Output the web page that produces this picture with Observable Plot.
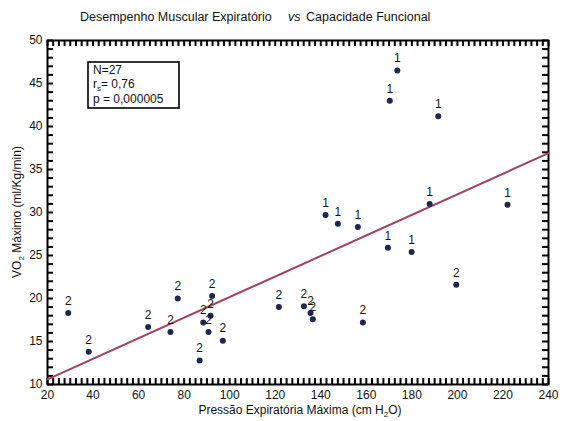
<!DOCTYPE html>
<html>
<head>
<meta charset="utf-8">
<script src="https://cdn.jsdelivr.net/npm/d3@7"></script>
<script src="https://cdn.jsdelivr.net/npm/@observablehq/plot@0.6"></script>
<style>
  html, body { margin: 0; padding: 0; background: #fff; }
  #chart svg { display: block; }
</style>
</head>
<body>
<div id="chart"></div>
<script>
// Pressão Expiratória Máxima (cm H2O)
const pemax = [29.1, 38.1, 64.2, 74.0, 77.2, 92.3, 91.6, 88.4, 90.7, 97.0, 86.8, 121.6, 132.6, 135.5, 136.5, 158.5, 199.5,
               173.6, 170.3, 191.6, 142.1, 147.5, 156.3, 169.5, 179.9, 187.8, 222.0];
// VO2 Máximo (ml/Kg/min)
const vo2 = [18.3, 13.8, 16.7, 16.1, 20.0, 20.3, 18.0, 17.2, 16.1, 15.1, 12.8, 19.0, 19.1, 18.3, 17.6, 17.2, 21.6,
             46.5, 43.0, 41.2, 29.7, 28.7, 28.3, 25.9, 25.4, 31.0, 30.9];
// group label shown above each point
const groupLabel = ["2","2","2","2","2","2","2","2","2","2","2","2","2","2","2","2","2",
                    "1","1","1","1","1","1","1","1","1","1"];
// regression line end points
const fitX = [20, 240];
const fitY = [10.6, 36.9];
// axis ticks
const xTicks = [20, 40, 60, 80, 100, 120, 140, 160, 180, 200, 220, 240];
const yTicks = [10, 15, 20, 25, 30, 35, 40, 45, 50];
const xMinor = [];
for (let v = 20; v <= 240; v += 2.5) xMinor.push(v);
const yMinor = [];
for (let v = 10; v <= 50; v += 1) yMinor.push(v);
const statsLines = ["N=27", "r|s|= 0,76", "p = 0,000005"];

const points = pemax.map((x, i) => ({x, y: vo2[i], g: groupLabel[i]}));
const fit = fitX.map((x, i) => ({x, y: fitY[i]}));
const xTickData = xMinor.map(v => ({v}));
const yTickData = yMinor.map(v => ({v}));

const font = "Liberation Sans, Arial, sans-serif";

const plot = Plot.plot({
  width: 565,
  height: 421,
  marginLeft: 47,
  marginRight: 17,
  marginTop: 40,
  marginBottom: 37,
  style: {fontFamily: font, fontSize: "12px", background: "#fff", color: "#111"},
  x: {domain: [20, 240]},
  y: {domain: [10, 50]},
  marks: [
    Plot.axisX({anchor: "bottom", ticks: xTicks, tickSize: 0, tickPadding: 6, label: null, fontSize: 12}),
    Plot.axisY({anchor: "left", ticks: yTicks, tickSize: 0, tickPadding: 5, label: null, fontSize: 12}),
    Plot.frame({stroke: "#000", fill: "none", strokeWidth: 2}),
    // inward minor ticks: bottom, top, left, right
    Plot.tickX(xTickData, {x: "v", stroke: "#000", strokeWidth: 2, insetTop: 338}),
    Plot.tickX(xTickData, {x: "v", stroke: "#000", strokeWidth: 2, insetBottom: 338}),
    Plot.tickY(yTickData, {y: "v", stroke: "#000", strokeWidth: 2, insetRight: 495}),
    Plot.tickY(yTickData, {y: "v", stroke: "#000", strokeWidth: 2, insetLeft: 495}),
    Plot.line(fit, {x: "x", y: "y", stroke: "#a3405e", strokeWidth: 2}),
    Plot.dot(points, {x: "x", y: "y", r: 3, fill: "#1c2756", stroke: "none"}),
    Plot.text(points, {x: "x", y: "y", text: "g", dy: -12, fontSize: 12, fill: "#111"})
  ]
});

document.getElementById("chart").appendChild(plot);

const svg = d3.select(plot);

// Title
const t = svg.append("g").attr("font-family", font).attr("font-size", 12.5).attr("fill", "#111").attr("text-anchor", "start");
t.append("text").attr("x", 80).attr("y", 21).text("Desempenho Muscular Expiratório");
t.append("text").attr("x", 288).attr("y", 21).attr("font-style", "italic").text("vs");
t.append("text").attr("x", 306).attr("y", 21).text("Capacidade Funcional");

// X axis label
const xl = svg.append("text").attr("x", 300).attr("y", 414).attr("text-anchor", "middle")
  .attr("font-family", font).attr("font-size", 12).attr("fill", "#111");
xl.append("tspan").text("Pressão Expiratória Máxima (cm H");
xl.append("tspan").attr("font-size", 8).attr("dy", 3).text("2");
xl.append("tspan").attr("dy", -3).text("O)");

// Y axis label
const yl = svg.append("text").attr("transform", "translate(21,212) rotate(-90)").attr("text-anchor", "middle")
  .attr("font-family", font).attr("font-size", 12).attr("fill", "#111");
yl.append("tspan").text("VO");
yl.append("tspan").attr("font-size", 8).attr("dy", 3).text("2");
yl.append("tspan").attr("dy", -3).text(" Máximo (ml/Kg/min)");

// Stats box
const box = svg.append("g").attr("font-family", font).attr("font-size", 12).attr("fill", "#111").attr("text-anchor", "start");
box.append("rect").attr("x", 88).attr("y", 62).attr("width", 91).attr("height", 46)
  .attr("fill", "#fff").attr("stroke", "#000").attr("stroke-width", 1.6);
statsLines.forEach((line, i) => {
  const tx = box.append("text").attr("x", 93).attr("y", 73.5 + i * 14.5);
  const parts = line.split("|");
  if (parts.length === 3) {
    tx.append("tspan").text(parts[0]);
    tx.append("tspan").attr("font-size", 8).attr("dy", 3).text(parts[1]);
    tx.append("tspan").attr("dy", -3).text(parts[2]);
  } else {
    tx.text(line);
  }
});
</script>
</body>
</html>
